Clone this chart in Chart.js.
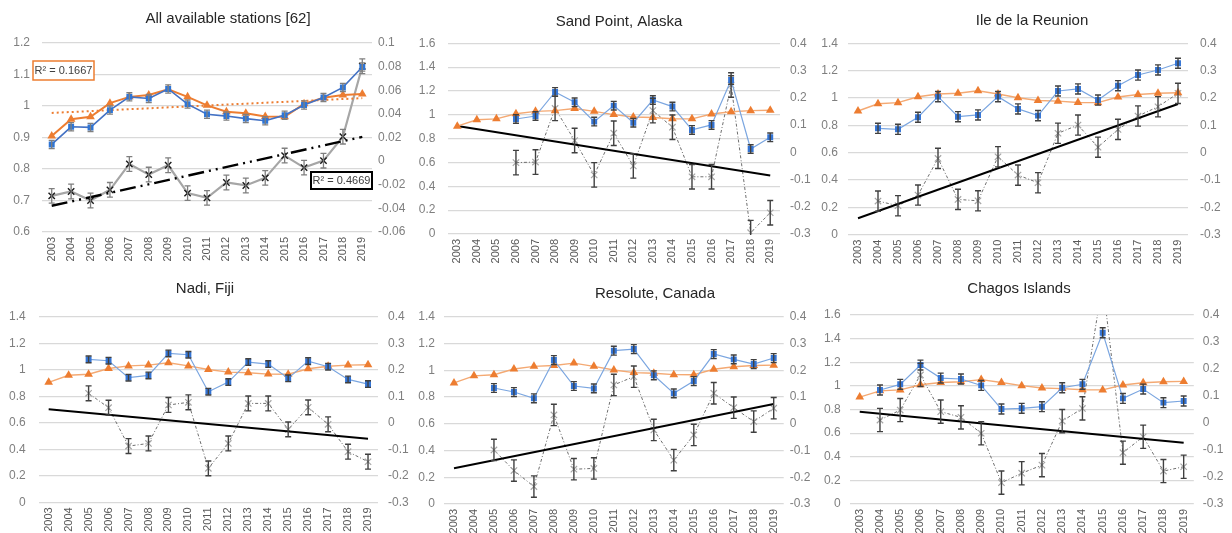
<!DOCTYPE html>
<html><head><meta charset="utf-8">
<script src="https://cdn.jsdelivr.net/npm/chart.js@4/dist/chart.umd.min.js"></script>
<style>
html,body{margin:0;padding:0;background:#fff;overflow:hidden;width:1232px;height:533px;position:relative;}
canvas{position:absolute;}
</style></head><body>
<canvas id="c0" width="410" height="268" style="left:0px;top:0px"></canvas>
<canvas id="c1" width="410" height="268" style="left:410px;top:0px"></canvas>
<canvas id="c2" width="412" height="268" style="left:820px;top:0px"></canvas>
<canvas id="c3" width="410" height="285" style="left:0px;top:265px"></canvas>
<canvas id="c4" width="410" height="285" style="left:410px;top:265px"></canvas>
<canvas id="c5" width="412" height="285" style="left:820px;top:265px"></canvas>
<script>
// ---------- DATA ----------
const years = ['2003','2004','2005','2006','2007','2008','2009','2010','2011','2012','2013','2014','2015','2016','2017','2018','2019'];
const titles = ['All available stations [62]','Sand Point, Alaska','Ile de la Reunion','Nadi, Fiji','Resolute, Canada','Chagos Islands'];

// orange series (global mean, same in every panel), left axis
const meanAll = [0.905,0.958,0.966,1.009,1.029,1.035,1.053,1.029,1.002,0.982,0.977,0.967,0.966,1.007,1.026,1.035,1.038];

// blue series (left axis) and grey series (right axis) per panel
const allBlue  = [0.878,0.934,0.932,0.987,1.029,1.024,1.054,1.006,0.974,0.968,0.960,0.953,0.971,1.003,1.027,1.059,1.124];
const allGray  = [-0.0294,-0.0257,-0.0333,-0.0243,-0.0024,-0.0114,-0.0035,-0.0271,-0.0311,-0.0181,-0.0206,-0.0142,0.0047,-0.0055,0.0004,0.0207,0.0803];
const sandBlue = [null,null,null,0.965,0.990,1.192,1.105,0.943,1.077,0.934,1.124,1.069,0.873,0.915,1.292,0.713,0.811];
const sandGray = [null,null,null,-0.038,-0.036,0.161,0.043,-0.083,0.070,-0.050,0.153,0.092,-0.090,-0.090,0.247,-0.295,-0.222];
const reuBlue  = [null,0.778,0.771,0.859,1.010,0.863,0.876,1.010,0.920,0.871,1.051,1.066,0.985,1.090,1.168,1.205,1.254];
const reuGray  = [null,-0.177,-0.194,-0.155,-0.021,-0.171,-0.176,-0.015,-0.082,-0.110,0.071,0.101,0.020,0.085,0.134,0.168,0.217];
const nadiBlue = [null,null,1.078,1.068,0.940,0.957,1.123,1.113,0.834,0.907,1.058,1.043,0.935,1.065,1.023,0.927,0.892];
const nadiGray = [null,null,0.111,0.057,-0.088,-0.078,0.067,0.077,-0.172,-0.078,0.073,0.073,-0.025,0.058,-0.006,-0.109,-0.147];
const resBlue  = [null,null,0.867,0.837,0.790,1.076,0.882,0.864,1.146,1.158,0.962,0.827,0.919,1.121,1.081,1.046,1.091];
const resGray  = [null,null,-0.098,-0.175,-0.235,0.033,-0.170,-0.167,0.145,0.176,-0.023,-0.136,-0.042,0.114,0.060,0.008,0.058];
const chaBlue  = [null,0.965,1.013,1.176,1.066,1.058,1.004,0.804,0.810,0.824,0.984,1.013,1.450,0.894,0.973,0.858,0.872];
const chaGray  = [null,0.011,0.048,0.178,0.042,0.021,-0.038,-0.221,-0.186,-0.156,0.007,0.054,0.520,-0.110,-0.051,-0.178,-0.162];

// error bar half-widths per panel
const errBlue = [0.013, 0.036, 0.037, 0.025, 0.033, 0.042];
const errGray = [0.0062, 0.045, 0.037, 0.028, 0.040, 0.043];

// linear trend end values (2003, 2019)
const allTrendOrange = [0.978, 1.025];   // left axis
const allTrendGray   = [-0.0378, 0.0205]; // right axis
const stationTrends  = [[0.906,0.490],[0.120,0.956],[0.701,0.480],[0.267,0.747],[0.781,0.519]]; // left axis

// R² labels
const r2Labels = ['R\u00B2 = 0.1667','R\u00B2 = 0.4669'];

// axis ranges [min, max, step]
const leftAxes  = [[0.6,1.2,0.1],[0,1.6,0.2],[0,1.4,0.2],[0,1.4,0.2],[0,1.4,0.2],[0,1.6,0.2]];
const rightAxes = [[-0.06,0.1,0.02],[-0.3,0.4,0.1],[-0.3,0.4,0.1],[-0.3,0.4,0.1],[-0.3,0.4,0.1],[-0.3,0.4,0.1]];

// ---------- LAYOUT / STYLE ----------
const layouts = [
  {W:410,H:268,left:42,  right:372,  top:43,   bottom:232,   lPad:12, rPad:6,  tx:228, ty:19},
  {W:410,H:268,left:37.5,right:370,  top:43.3, bottom:234,   lPad:12, rPad:10, tx:209, ty:22},
  {W:412,H:268,left:28,  right:368,  top:43.3, bottom:234.7, lPad:10, rPad:12, tx:212, ty:21},
  {W:410,H:285,left:38.7,right:378,  top:51.7, bottom:237.3, lPad:13, rPad:10, tx:205, ty:24},
  {W:410,H:285,left:34,  right:373.7,top:51.7, bottom:239,   lPad:9,  rPad:6,  tx:245, ty:29},
  {W:412,H:285,left:29.6,right:373.8,top:50,   bottom:239,   lPad:9,  rPad:9,  tx:199, ty:24}
];

const fmt = v => { const r = Math.round(v*1000)/1000; return (Math.abs(r) < 1e-9) ? '0' : String(r); };

const errorBarPlugin = {
  id: 'errbars',
  afterDatasetsDraw(chart) {
    const ctx = chart.ctx, a = chart.chartArea;
    ctx.save();
    ctx.beginPath(); ctx.rect(a.left, a.top - 1, a.right - a.left, a.bottom - a.top + 2); ctx.clip();
    chart.data.datasets.forEach((ds, i) => {
      if (!ds.errSize) return;
      const meta = chart.getDatasetMeta(i);
      const ys = chart.scales[ds.yAxisID];
      ctx.strokeStyle = ds.errColor; ctx.lineWidth = ds.errWidth;
      ds.data.forEach((v, j) => {
        if (v == null) return;
        const x = meta.data[j].x;
        const y1 = ys.getPixelForValue(v + ds.errSize), y2 = ys.getPixelForValue(v - ds.errSize);
        ctx.beginPath();
        ctx.moveTo(x, y1); ctx.lineTo(x, y2);
        ctx.moveTo(x - 3, y1); ctx.lineTo(x + 3, y1);
        ctx.moveTo(x - 3, y2); ctx.lineTo(x + 3, y2);
        ctx.stroke();
      });
    });
    ctx.restore();
  }
};

const panelTextPlugin = {
  id: 'panelText',
  afterDraw(chart, args, opts) {
    const ctx = chart.ctx;
    ctx.save();
    ctx.fillStyle = '#262626';
    ctx.font = '15px "Liberation Sans", Arial, sans-serif';
    ctx.textAlign = 'center'; ctx.textBaseline = 'middle';
    ctx.fillText(opts.title, opts.tx, opts.ty);
    (opts.boxes || []).forEach(b => {
      ctx.fillStyle = '#fff';
      ctx.fillRect(b.x, b.y, b.w, b.h);
      ctx.strokeStyle = b.color; ctx.lineWidth = b.lw;
      ctx.strokeRect(b.x, b.y, b.w, b.h);
      ctx.fillStyle = '#404040';
      ctx.font = '11px "Liberation Sans", Arial, sans-serif';
      ctx.fillText(b.text, b.x + b.w / 2, b.y + b.h / 2 + 0.5);
    });
    ctx.restore();
  }
};

function trendData(pair) { return [{x: years[0], y: pair[0]}, {x: years[years.length - 1], y: pair[1]}]; }

function makeChart(idx, datasets, boxes) {
  const L = layouts[idx], la = leftAxes[idx], ra = rightAxes[idx];
  new Chart(document.getElementById('c' + idx), {
    type: 'line',
    data: { labels: years, datasets },
    options: {
      responsive: false, animation: false, devicePixelRatio: 1,
      layout: { padding: { left: 0, right: 0, top: L.top, bottom: 0 } },
      elements: { line: { tension: 0 } },
      plugins: {
        legend: { display: false }, tooltip: { enabled: false }, title: { display: false },
        panelText: { title: titles[idx], tx: L.tx, ty: L.ty, boxes: boxes }
      },
      scales: {
        x: {
          type: 'category', offset: true,
          grid: { display: false, drawTicks: false }, border: { display: false },
          ticks: { autoSkip: false, minRotation: 90, maxRotation: 90, padding: 5,
                   color: '#595959', font: { family: '"Liberation Sans Narrow", "Liberation Sans", Arial', size: 11 } },
          afterFit: s => { s.height = L.H - L.bottom; }
        },
        y: {
          position: 'left', min: la[0], max: la[1],
          grid: { color: '#d9d9d9', lineWidth: 1.2, drawTicks: false }, border: { display: false },
          ticks: { stepSize: la[2], padding: L.lPad, color: '#7f7f7f', callback: fmt,
                   font: { family: '"Liberation Sans", Arial', size: 12 } },
          afterFit: s => { s.width = L.left; }
        },
        y1: {
          position: 'right', min: ra[0], max: ra[1],
          grid: { display: false, drawTicks: false }, border: { display: false },
          ticks: { stepSize: ra[2], padding: L.rPad, color: '#7f7f7f', callback: fmt,
                   font: { family: '"Liberation Sans", Arial', size: 12 } },
          afterFit: s => { s.width = L.W - L.right; }
        }
      }
    },
    plugins: [errorBarPlugin, panelTextPlugin]
  });
}

// Panel 0 : all stations
makeChart(0, [
  { data: allBlue, yAxisID: 'y', borderColor: '#4472c4', borderWidth: 1.6,
    pointStyle: 'rect', pointRadius: 4.2, pointBackgroundColor: '#2e75d6', pointBorderWidth: 0,
    errSize: errBlue[0], errColor: '#7f7f7f', errWidth: 1.3 },
  { data: meanAll, yAxisID: 'y', borderColor: '#ed7d31', borderWidth: 2,
    pointStyle: 'triangle', pointRadius: 5, pointBackgroundColor: '#ed7d31', pointBorderWidth: 0 },
  { data: trendData(allTrendOrange), yAxisID: 'y', borderColor: '#ed7d31', borderWidth: 2,
    borderDash: [2, 3], pointRadius: 0 },
  { data: trendData(allTrendGray), yAxisID: 'y1', borderColor: '#000', borderWidth: 2.4,
    borderDash: [16, 5, 2, 5, 2, 5], pointRadius: 0 },
  { data: allGray, yAxisID: 'y1', borderColor: '#a6a6a6', borderWidth: 2.2,
    pointStyle: 'crossRot', pointRadius: 4.5, pointBorderColor: '#1a1a1a', pointBorderWidth: 1.4,
    errSize: errGray[0], errColor: '#7f7f7f', errWidth: 1.3 }
], [
  { x: 33, y: 61, w: 61, h: 19, color: '#ed7d31', lw: 1.5, text: r2Labels[0] },
  { x: 311, y: 172, w: 61, h: 17, color: '#000', lw: 2, text: r2Labels[1] }
]);

// station panels
const stationBlue = [sandBlue, reuBlue, nadiBlue, resBlue, chaBlue];
const stationGray = [sandGray, reuGray, nadiGray, resGray, chaGray];
for (let k = 0; k < 5; k++) {
  const idx = k + 1;
  makeChart(idx, [
    { data: stationBlue[k], yAxisID: 'y', borderColor: '#7ba6e0', borderWidth: 1.2,
      pointStyle: 'rect', pointRadius: 4.2, pointBackgroundColor: '#3474d4', pointBorderWidth: 0,
      errSize: errBlue[idx], errColor: '#404040', errWidth: 1.4 },
    { data: meanAll, yAxisID: 'y', borderColor: '#f4a973', borderWidth: 1.4,
      pointStyle: 'triangle', pointRadius: 5, pointBackgroundColor: '#ed7d31', pointBorderWidth: 0 },
    { data: trendData(stationTrends[k]), yAxisID: 'y', borderColor: '#000', borderWidth: 2, pointRadius: 0 },
    { data: stationGray[k], yAxisID: 'y1', borderColor: '#6e6e6e', borderWidth: 1,
      borderDash: [3, 2, 1, 2],
      pointStyle: 'crossRot', pointRadius: 4.5, pointBorderColor: '#a6a6a6', pointBorderWidth: 1.2,
      errSize: errGray[idx], errColor: '#404040', errWidth: 1.4 }
  ], []);
}
</script>
</body></html>
